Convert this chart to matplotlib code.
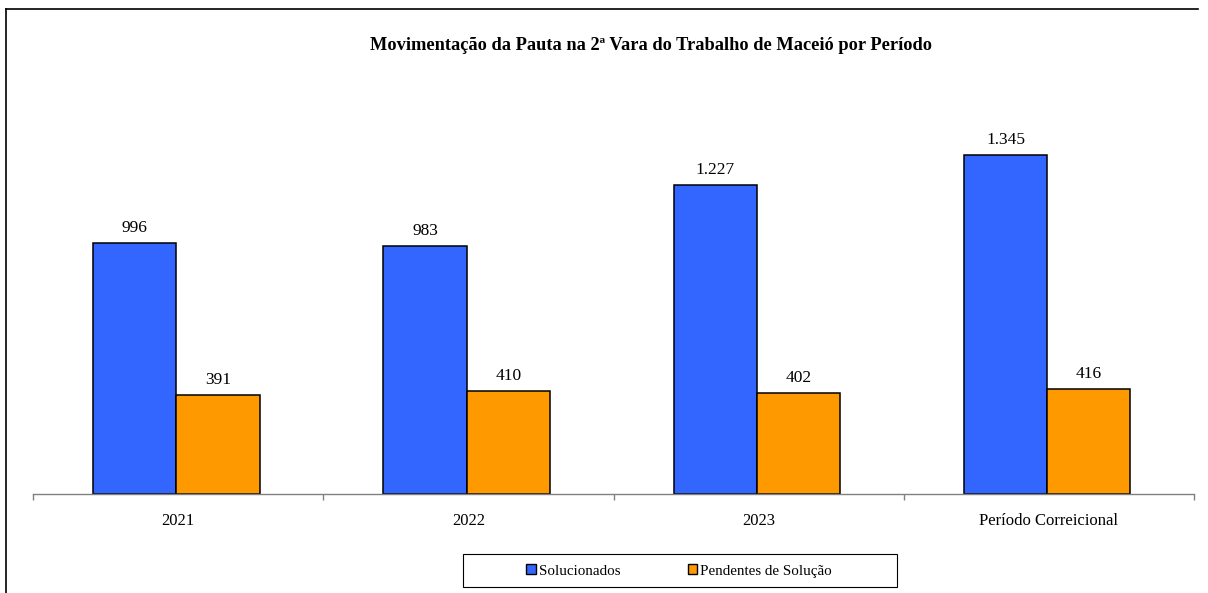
import matplotlib.pyplot as plt
import numpy as np
from matplotlib.patches import Patch, Rectangle
from matplotlib.lines import Line2D

# --- data ---
periodos = ['2021', '2022', '2023', 'Período Correicional']
solucionados = [996, 983, 1227, 1345]
pendentes = [391, 410, 402, 416]
rotulos_sol = ['996', '983', '1.227', '1.345']
rotulos_pen = ['391', '410', '402', '416']

plt.rcParams['font.family'] = ['Liberation Serif', 'DejaVu Serif']

W, H = 1208, 593
fig = plt.figure(figsize=(W / 100, H / 100), dpi=100)
ax = fig.add_axes([33 / W, 1 - 494 / H, (1194 - 33) / W, (494 - 100) / H])

x = np.arange(len(periodos))
largura = 0.287
desloc = -0.006
azul = '#3366FF'
laranja = '#FF9900'

b1 = ax.bar(x - largura / 2 + desloc, solucionados, largura, color=azul, edgecolor='black', linewidth=1.1)
b2 = ax.bar(x + largura / 2 + desloc, pendentes, largura, color=laranja, edgecolor='black', linewidth=1.1)

for barras, rotulos in [(b1, rotulos_sol), (b2, rotulos_pen)]:
    for b, r in zip(barras, rotulos):
        ax.annotate(r, (b.get_x() + b.get_width() / 2, b.get_height()),
                    xytext=(0, 5), textcoords='offset points',
                    ha='center', va='bottom', fontsize=12.5)

ax.set_xlim(-0.5, len(periodos) - 0.5)
ax.set_ylim(0, 1563)
ax.set_xticks(x)
ax.set_xticklabels(periodos, fontsize=12)
ax.set_xticks(np.arange(len(periodos) + 1) - 0.5, minor=True)
ax.tick_params(axis='x', which='major', length=0, pad=14)
ax.tick_params(axis='x', which='minor', length=4, color='#808080', width=1)
ax.set_yticks([])
for s in ['top', 'right', 'left']:
    ax.spines[s].set_visible(False)
ax.spines['bottom'].set_color('#808080')
ax.spines['bottom'].set_linewidth(1)

fig.text(651 / W, 1 - 45 / H, 'Movimentação da Pauta na 2ª Vara do Trabalho de Maceió por Período',
         ha='center', va='center', fontsize=13.2, fontweight='bold')

# legend
handles = [Patch(facecolor=azul, edgecolor='black', linewidth=1),
           Patch(facecolor=laranja, edgecolor='black', linewidth=1)]
fig.legend(handles, ['Solucionados', 'Pendentes de Solução'], ncol=2, frameon=False,
           loc='center', bbox_to_anchor=(679 / W, 1 - 571 / H), fontsize=10.8,
           handlelength=0.65, handleheight=0.65, handletextpad=0.2, columnspacing=4.5)
fig.add_artist(Rectangle((463 / W, 1 - 587 / H), 434 / W, 33 / H, transform=fig.transFigure,
                         facecolor='none', edgecolor='black', linewidth=0.8))

# outer frame (top and left only)
fig.add_artist(Line2D([6 / W, 1198 / W], [1 - 9 / H, 1 - 9 / H], color='black', linewidth=1.2))
fig.add_artist(Line2D([6 / W, 6 / W], [1 - 9 / H, 0], color='black', linewidth=1.2))

fig.savefig('out.png', dpi=100)
